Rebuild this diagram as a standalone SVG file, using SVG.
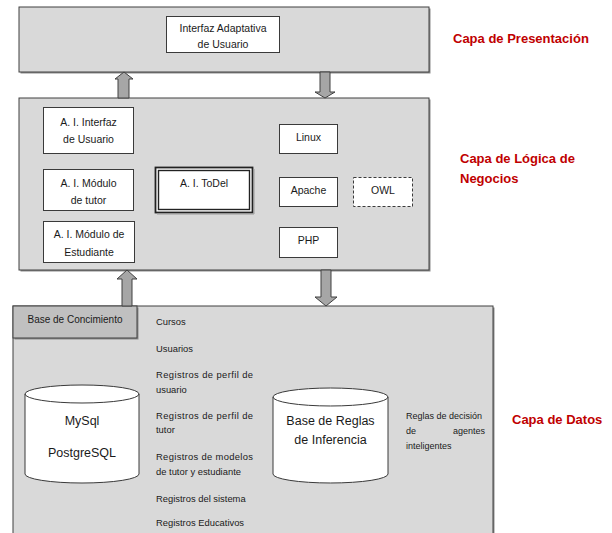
<svg xmlns="http://www.w3.org/2000/svg" width="612" height="533" viewBox="0 0 612 533">
<defs>
<style>
.layer{fill:#d9d9d9;stroke:#404040;stroke-width:1}
.shadow{fill:#8c8c8c}
.box{fill:#ffffff;stroke:#3a3a3a;stroke-width:1}
.t{font-family:"Liberation Sans",Arial,sans-serif;font-size:10.5px;fill:#1a1a1a;text-anchor:middle}
.s{font-family:"Liberation Sans",Arial,sans-serif;font-size:9px;fill:#1a1a1a}
.l{font-family:"Liberation Sans",Arial,sans-serif;font-size:9.4px;fill:#1a1a1a}
.big{font-family:"Liberation Sans",Arial,sans-serif;font-size:12.5px;fill:#1a1a1a;text-anchor:middle}
.cap{font-family:"Liberation Sans",Arial,sans-serif;font-size:13px;font-weight:bold;fill:#c00000}
.arrow{fill:#a6a6a6;stroke:#404040;stroke-width:1}
.cyl{fill:#ffffff;stroke:#3a3a3a;stroke-width:1}
</style>
</defs>
<rect width="612" height="533" fill="#ffffff"/>

<g id="capa-presentacion">
<rect class="shadow" x="20.5" y="8.5" width="410" height="65"/>
<rect class="layer" x="19" y="7" width="410" height="65"/>
<text class="cap" x="453" y="42.5">Capa de Presentación</text>
</g>
<g id="interfaz-adaptativa">
<rect class="box" x="166.5" y="16.5" width="113" height="36"/>
<text class="t" x="223" y="31.5">Interfaz Adaptativa</text>
<text class="t" x="223" y="48">de Usuario</text>
</g>

<g id="capa-logica">
<rect class="shadow" x="20.5" y="99.5" width="410" height="172"/>
<rect class="layer" x="19" y="98" width="410" height="172"/>
<text class="cap" x="460" y="162.5">Capa de Lógica de</text>
<text class="cap" x="460" y="182.5">Negocios</text>
</g>
<g id="ai-interfaz">
<rect class="box" x="43.5" y="107.5" width="90" height="46"/>
<text class="t" x="88.5" y="125.5">A. I. Interfaz</text>
<text class="t" x="88.5" y="142.5">de Usuario</text>
</g>
<g id="ai-tutor">
<rect class="box" x="43.5" y="169.5" width="90" height="41"/>
<text class="t" x="88.5" y="186.5">A. I. Módulo</text>
<text class="t" x="88.5" y="203.5">de tutor</text>
</g>
<g id="ai-estudiante">
<rect class="box" x="43.5" y="221.5" width="91" height="41"/>
<text class="t" x="89" y="237.5">A. I. Módulo de</text>
<text class="t" x="89" y="255.5">Estudiante</text>
</g>
<g id="ai-todel">
<rect x="155.5" y="167.5" width="97" height="45" fill="#ffffff" stroke="#222222" stroke-width="1.8"/>
<rect x="158.5" y="170.5" width="91" height="39" fill="#ffffff" stroke="#222222" stroke-width="1.4"/>
<line x1="157" y1="214" x2="254" y2="214" stroke="#9a9a9a" stroke-width="1"/>
<line x1="254" y1="169" x2="254" y2="214" stroke="#9a9a9a" stroke-width="1"/>
<text class="t" x="204" y="186.5">A. I. ToDel</text>
</g>
<g id="linux">
<rect class="box" x="279.5" y="124.5" width="58" height="29"/>
<text class="t" x="308.5" y="140.5">Linux</text>
</g>
<g id="apache">
<rect class="box" x="279.5" y="177.5" width="58" height="29"/>
<text class="t" x="308.5" y="193.5">Apache</text>
</g>
<g id="owl">
<rect x="353.5" y="177.5" width="59" height="29" fill="#ffffff" stroke="#3a3a3a" stroke-width="1" stroke-dasharray="3,2"/>
<text class="t" x="383" y="193.5">OWL</text>
</g>
<g id="php">
<rect class="box" x="279.5" y="227.5" width="58" height="30"/>
<text class="t" x="308.5" y="243.5">PHP</text>
</g>

<g id="capa-datos">
<rect class="shadow" x="14.5" y="307.5" width="480" height="240"/>
<rect class="layer" x="13" y="306" width="480" height="240"/>
<text class="cap" x="512" y="423.5">Capa de Datos</text>
</g>
<g id="base-conocimiento">
<rect class="shadow" x="14.5" y="307.5" width="124" height="32"/>
<rect x="13" y="306" width="124" height="32" fill="#c0c0c0" stroke="#404040" stroke-width="1"/>
<text class="t" x="75" y="322.5" style="font-size:10px">Base de Concimiento</text>
</g>
<g id="lista-registros">
<text class="l" x="156" y="325">Cursos</text>
<text class="l" x="156" y="352">Usuarios</text>
<text class="l" x="156" y="378" textLength="97" lengthAdjust="spacing">Registros de perfil de</text>
<text class="l" x="156" y="393">usuario</text>
<text class="l" x="156" y="419" textLength="97" lengthAdjust="spacing">Registros de perfil de</text>
<text class="l" x="156" y="433">tutor</text>
<text class="l" x="156" y="460" textLength="97" lengthAdjust="spacing">Registros de modelos</text>
<text class="l" x="156" y="475">de tutor y estudiante</text>
<text class="l" x="156" y="502">Registros del sistema</text>
<text class="l" x="156" y="526">Registros Educativos</text>
</g>
<g id="mysql">
<path class="cyl" d="M25,394 A57,9 0 0 1 139,394 L139,474 A57,9 0 0 1 25,474 Z"/>
<path d="M25,394 A57,9 0 0 0 139,394" fill="none" stroke="#3a3a3a" stroke-width="1"/>
<text class="big" x="82" y="424.5">MySql</text>
<text class="big" x="82" y="457">PostgreSQL</text>
</g>
<g id="reglas-inferencia">
<path class="cyl" d="M273,397 A57.5,9 0 0 1 388,397 L388,474 A57.5,9 0 0 1 273,474 Z"/>
<path d="M273,397 A57.5,9 0 0 0 388,397" fill="none" stroke="#3a3a3a" stroke-width="1"/>
<text class="big" x="330.5" y="424.5">Base de Reglas</text>
<text class="big" x="330.5" y="443.5">de Inferencia</text>
</g>
<g id="reglas-decision">
<text class="s" x="406" y="419">Reglas de decisión</text>
<text class="s" x="406" y="434">de</text>
<text class="s" x="485" y="434" text-anchor="end">agentes</text>
<text class="s" x="406" y="449">inteligentes</text>
</g>

<g id="connectors">
<path class="arrow" d="M124,72 L133,79 L129,79 L129,98 L118,98 L118,79 L115,79 Z"/>
<path class="arrow" d="M320,72 L330,72 L330,92 L335,92 L325,98 L315,92 L320,92 Z"/>
<path class="arrow" d="M127,270 L137,279 L132,279 L132,306 L122,306 L122,279 L117,279 Z"/>
<path class="arrow" d="M321,270 L331,270 L331,297 L337,297 L326,306 L315,297 L321,297 Z"/>
</g>
</svg>
